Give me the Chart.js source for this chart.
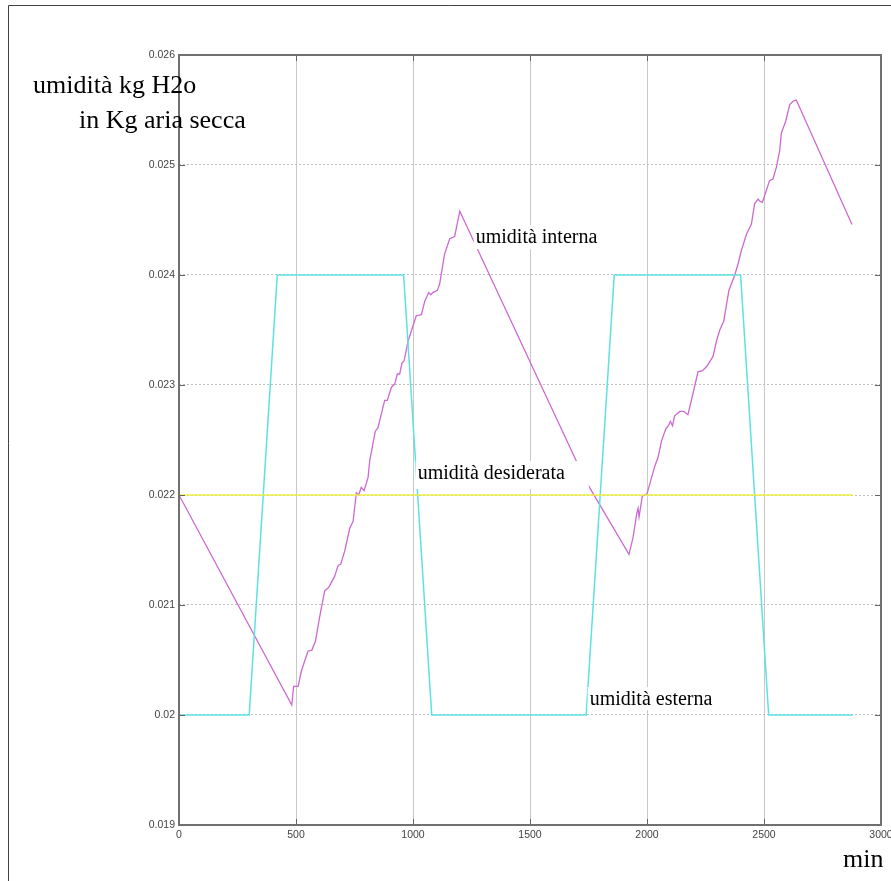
<!DOCTYPE html>
<html>
    <head>
        <meta charset="utf-8">
        <title>Umidità</title>
        <style>
            body { margin: 0; background: #fff; }
            canvas { display: block; }
        </style>
    </head>
    <body>
        <canvas id="umiditaCanvas" width="891" height="881"></canvas>

        <script src="https://cdn.jsdelivr.net/npm/chart.js@4/dist/chart.umd.min.js"></script>
        <script>
        // tempo in minuti, umidità in kg H2O / kg aria secca
        var internaMin = [0, 482, 490, 509, 523, 551, 568, 583, 601, 609, 623, 640, 665, 680, 691, 708,
            730, 744, 758, 768, 779, 791, 808, 815, 839, 850, 879, 890, 908, 922, 933, 943, 953, 962,
            979, 1014, 1036, 1050, 1067, 1076, 1085, 1104, 1114, 1135, 1157, 1178, 1200, 1700, 1758,
            1923, 1940, 1957, 1962, 1966, 1980, 2000, 2033, 2047, 2062, 2080, 2094, 2100, 2109, 2118,
            2140, 2157, 2175, 2194, 2218, 2237, 2256, 2282, 2297, 2311, 2328, 2350, 2375, 2389, 2403,
            2425, 2446, 2460, 2475, 2482, 2493, 2507, 2524, 2538, 2553, 2567, 2574, 2593, 2610, 2624,
            2638, 2876];
        var internaVal = [0.02200, 0.02009, 0.02026, 0.02026, 0.02040, 0.02058, 0.02059, 0.02067,
            0.02089, 0.02098, 0.02113, 0.02116, 0.02126, 0.02136, 0.02137, 0.02149, 0.02170, 0.02176,
            0.02202, 0.02200, 0.02207, 0.02204, 0.02216, 0.02231, 0.02258, 0.02261, 0.02286, 0.02286,
            0.02298, 0.02301, 0.02310, 0.02310, 0.02320, 0.02322, 0.02340, 0.02363, 0.02364, 0.02376,
            0.02384, 0.02382, 0.02384, 0.02386, 0.02392, 0.02419, 0.02433, 0.02435, 0.02458, 0.02230,
            0.022055,
            0.02146, 0.02161, 0.02184, 0.02188, 0.02180, 0.02199, 0.02201, 0.02226, 0.02234, 0.02249,
            0.02260, 0.02264, 0.02267, 0.02263, 0.02272, 0.02276, 0.02276, 0.02273, 0.02290, 0.02312,
            0.02313, 0.02317, 0.02326, 0.02340, 0.02350, 0.02358, 0.02386, 0.02400, 0.02410, 0.02422,
            0.02437, 0.02446, 0.02465, 0.02469, 0.02467, 0.02466, 0.02475, 0.02486, 0.02487, 0.02498,
            0.02513, 0.02529, 0.02540, 0.02555, 0.02558, 0.02559, 0.02446];

        var esternaMin = [0, 300, 420, 960, 1080, 1740, 1860, 2400, 2520, 2880];
        var esternaVal = [0.020, 0.020, 0.024, 0.024, 0.020, 0.020, 0.024, 0.024, 0.020, 0.020];

        var desiderataMin = [0, 2880];
        var desiderataVal = [0.022, 0.022];

        var xTicks = [0, 500, 1000, 1500, 2000, 2500, 3000];
        var yTicks = [0.019, 0.020, 0.021, 0.022, 0.023, 0.024, 0.025, 0.026];

        // etichette dentro il grafico, ancorate a (minuti, umidità);
        // il fondo bianco sporge a destra e in basso come nell'originale
        var etichette = [
            { testo: 'umidità interna', min: 1268, val: 0.02429, destra: 6, sotto: 6 },
            { testo: 'umidità desiderata', min: 1020, val: 0.022145, destra: 24, sotto: 10 },
            { testo: 'umidità esterna', min: 1755, val: 0.02009, destra: 6, sotto: 5 }
        ];

        var punti = function(xs, ys) {
            return xs.map(function(x, i) { return { x: x, y: ys[i] }; });
        };

        var serif = "'Liberation Serif', 'Times New Roman', serif";

        var cornice = {
            id: 'cornice',
            afterDatasetsDraw: function(chart) {
                var ctx = chart.ctx;
                var a = chart.chartArea;
                var xs = chart.scales.x, ys = chart.scales.y;
                ctx.save();

                // tacche interne
                ctx.strokeStyle = '#666';
                ctx.lineWidth = 1;
                ctx.beginPath();
                yTicks.forEach(function(v) {
                    var py = Math.round(ys.getPixelForValue(v)) + 0.5;
                    ctx.moveTo(a.left, py); ctx.lineTo(a.left + 6, py);
                    ctx.moveTo(a.right, py); ctx.lineTo(a.right - 6, py);
                });
                xTicks.forEach(function(v) {
                    var px = Math.round(xs.getPixelForValue(v)) + 0.5;
                    ctx.moveTo(px, a.bottom); ctx.lineTo(px, a.bottom - 6);
                    ctx.moveTo(px, a.top); ctx.lineTo(px, a.top + 6);
                });
                ctx.stroke();

                // riquadro degli assi
                ctx.strokeStyle = '#707070';
                ctx.lineWidth = 2;
                ctx.strokeRect(a.left, a.top, a.right - a.left, a.bottom - a.top);

                // bordo esterno
                ctx.strokeStyle = '#404040';
                ctx.lineWidth = 1;
                ctx.beginPath();
                ctx.moveTo(8.5, chart.height);
                ctx.lineTo(8.5, 5.5);
                ctx.lineTo(chart.width, 5.5);
                ctx.stroke();

                // etichette delle curve, su fondo bianco
                ctx.font = '20px ' + serif;
                ctx.textBaseline = 'alphabetic';
                ctx.textAlign = 'left';
                etichette.forEach(function(e) {
                    var px = xs.getPixelForValue(e.min);
                    var py = ys.getPixelForValue(e.val);
                    var w = ctx.measureText(e.testo).width;
                    ctx.fillStyle = '#fff';
                    ctx.fillRect(px - 2, py - 18, w + 2 + e.destra, 18 + e.sotto);
                    ctx.fillStyle = '#000';
                    ctx.fillText(e.testo, px, py);
                });

                // titoli degli assi
                ctx.font = '26px ' + serif;
                ctx.fillText('umidità kg H2o', 33, 93);
                ctx.fillText('in Kg aria secca', 79, 128);
                ctx.fillText('min', 843, 867);

                ctx.restore();
            }
        };

        var ctx = document.getElementById('umiditaCanvas').getContext('2d');
        Chart.defaults.font.family = "'Liberation Sans', Arial, sans-serif";
        Chart.defaults.font.size = 10.5;
        Chart.defaults.color = '#444';

        var chart = new Chart(ctx, {
            type: 'line',
            data: {
                datasets: [{
                    label: 'umidità desiderata',
                    data: punti(desiderataMin, desiderataVal),
                    borderColor: 'rgb(238,238,70)',
                    borderWidth: 1.3
                }, {
                    label: 'umidità esterna',
                    data: punti(esternaMin, esternaVal),
                    borderColor: 'rgb(95,225,225)',
                    borderWidth: 1.5
                }, {
                    label: 'umidità interna',
                    data: punti(internaMin, internaVal),
                    borderColor: 'rgb(205,105,210)',
                    borderWidth: 1.3
                }]
            },
            options: {
                responsive: false,
                animation: false,
                elements: {
                    point: { radius: 0 },
                    line: { tension: 0 }
                },
                layout: { padding: { left: 0, top: 55, right: 10, bottom: 0 } },
                plugins: {
                    legend: { display: false },
                    tooltip: { enabled: false }
                },
                scales: {
                    x: {
                        type: 'linear',
                        min: 0,
                        max: 3000,
                        afterBuildTicks: function(scale) {
                            scale.ticks = xTicks.map(function(v) { return { value: v }; });
                        },
                        afterFit: function(scale) {
                            scale.height = 56;
                            scale.paddingLeft = 0;
                            scale.paddingRight = 0;
                        },
                        ticks: {
                            padding: 4,
                            maxRotation: 0,
                            autoSkip: false,
                            callback: function(v) { return String(v); }
                        },
                        grid: { color: '#c8c8c8', lineWidth: 1, drawTicks: false },
                        border: { display: false }
                    },
                    y: {
                        type: 'linear',
                        min: 0.019,
                        max: 0.026,
                        afterBuildTicks: function(scale) {
                            scale.ticks = yTicks.map(function(v) { return { value: v }; });
                        },
                        afterFit: function(scale) {
                            scale.width = 179;
                            scale.paddingTop = 0;
                            scale.paddingBottom = 0;
                        },
                        ticks: {
                            padding: 4,
                            autoSkip: false,
                            callback: function(v) { return String(Number(v.toFixed(3))); }
                        },
                        grid: { color: '#bdbdbd', lineWidth: 1, drawTicks: false },
                        border: { display: false, dash: [2, 2] }
                    }
                }
            },
            plugins: [cornice]
        });
        </script>
    </body>
</html>
